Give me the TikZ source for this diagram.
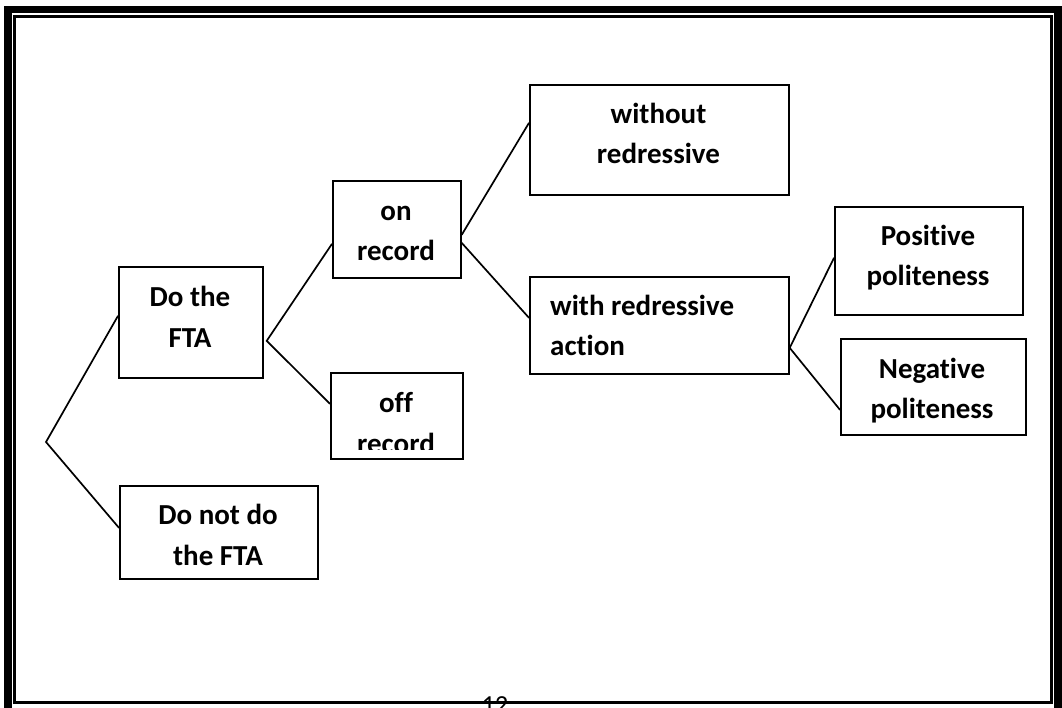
\documentclass[tikz,border=0pt]{standalone}
\usepackage{fontspec}
\setmainfont{Carlito}[RawFeature={-liga;-clig;-dlig}]
\begin{document}
\begin{tikzpicture}[x=1pt,y=-1pt,
  box/.style={draw, line width=1.7pt, anchor=north west, inner sep=0pt},
  txt/.style={font=\fontsize{29}{35}\selectfont\bfseries, anchor=base, inner sep=0pt},
  link/.style={line width=1.7pt}]
\useasboundingbox (0,0) rectangle (1062,707);
\clip (0,0) rectangle (1062,707);
% page frame
\draw[line width=7.5pt] (8,9.5) rectangle (1058,725);
\draw[line width=2.5pt] (14.5,16.5) rectangle (1051.5,702.5);
\node[font=\fontsize{26}{30}\selectfont, anchor=base, inner sep=0pt] (pagenum) at (495,713) {12};
% boxes
\node[box, minimum width=144pt, minimum height=111pt] (dofta) at (118,266) {};
\node[box, minimum width=198pt, minimum height=93pt] (donot) at (119,485) {};
\node[box, minimum width=128pt, minimum height=97pt] (onrec) at (332,180) {};
\node[box, minimum width=132pt, minimum height=86pt] (offrec) at (330,372) {};
\node[box, minimum width=259pt, minimum height=110pt] (without) at (529,84) {};
\node[box, minimum width=259pt, minimum height=97pt] (withr) at (529,276) {};
\node[box, minimum width=188pt, minimum height=108pt] (pos) at (834,206) {};
\node[box, minimum width=185pt, minimum height=96pt] (neg) at (840,338) {};
% texts
\node[txt] (dofta1) at (190,306) {Do the};
\node[txt] (dofta2) at (190,347) {FTA};
\node[txt] (donot1) at (218,524) {Do not do};
\node[txt] (donot2) at (218,565) {the FTA};
\node[txt] (onrec1) at (396,220) {on};
\node[txt] (onrec2) at (396,260) {record};
\node[txt] (offrec1) at (396,412) {off};
\begin{scope}
\clip (331,373) rectangle (461,449);
\node[txt] (offrec2) at (396,453) {record};
\end{scope}
\node[txt] (without1) at (658.5,123) {without};
\node[txt] (without2) at (658.5,163) {redressive};
\node[txt, anchor=base west] (withr1) at (550,315) {with redressive};
\node[txt, anchor=base west] (withr2) at (550,355) {action};
\node[txt] (pos1) at (928,245) {Positive};
\node[txt] (pos2) at (928,285) {politeness};
\node[txt] (neg1) at (932,378) {Negative};
\node[txt] (neg2) at (932,418) {politeness};
% connectors
\coordinate (root) at (46,442);
\coordinate (v1) at ([xshift=3pt,yshift=-18.5pt]dofta.east);
\coordinate (v3) at ([yshift=-22.5pt]withr.east);
\draw[link] ([yshift=6.5pt]dofta.west) -- (root) -- ([yshift=4.5pt]donot.west);
\draw[link] ([yshift=-14.5pt]onrec.west) -- (v1) -- ([yshift=12pt]offrec.west);
\draw[link] ([yshift=-5.5pt]onrec.east) -- ([yshift=17pt]without.west);
\draw[link] ([yshift=-13.5pt]onrec.east) -- ([yshift=7.5pt]withr.west);
\draw[link] ([yshift=3pt]pos.west) -- (v3) -- ([yshift=-23pt]neg.west);
\end{tikzpicture}
\end{document}
